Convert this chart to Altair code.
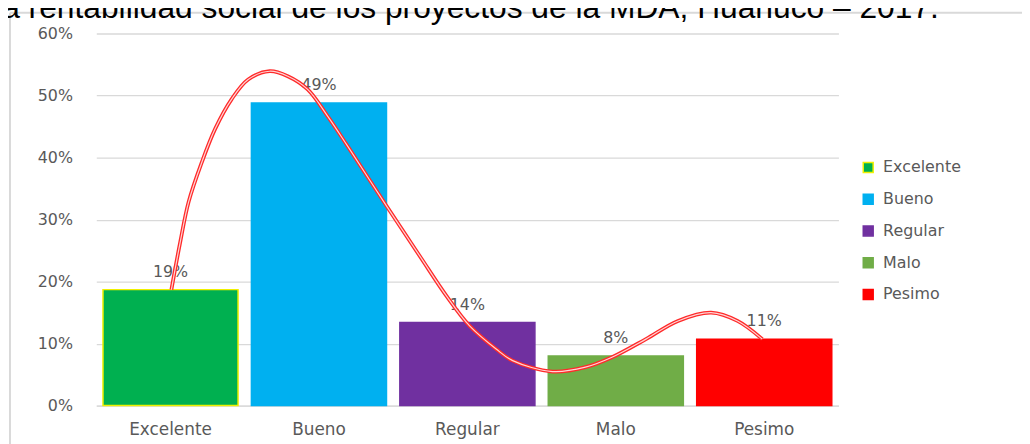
import altair as alt
import pandas as pd

# ---- data ----
categories = ["Excelente", "Bueno", "Regular", "Malo", "Pesimo"]
values = [0.187, 0.488, 0.134, 0.080, 0.107]
value_labels = ["19%", "49%", "14%", "8%", "11%"]
fill_colors = ["#00b050", "#00b0f0", "#7030a0", "#70ad47", "#ff0000"]
stroke_colors = ["#f0f000", "#00b0f0", "#7030a0", "#70ad47", "#ff0000"]

# hand-drawn red curve (x in category units, 0..5; y as fraction)
curve_x = [0.506, 0.566, 0.622, 0.711, 0.800, 0.911, 1.023, 1.168, 1.290, 1.424,
           1.557, 1.691, 1.959, 2.181, 2.360, 2.515, 2.694, 2.805, 3.073, 3.295,
           3.474, 3.703, 3.919, 4.142, 4.320, 4.487]
curve_y = [0.187, 0.2645, 0.3285, 0.3925, 0.4459, 0.4939, 0.5259, 0.5392, 0.5312, 0.5099,
           0.4672, 0.4192, 0.3205, 0.2405, 0.1765, 0.1285, 0.0912, 0.0725, 0.0549, 0.0619,
           0.0779, 0.1072, 0.1365, 0.1499, 0.1365, 0.1072]

title_text = "la rentabilidad social de los proyectos de la MDA, Huánuco – 2017."

bars_df = pd.DataFrame({"cat": categories, "val": values, "lab": value_labels})
curve_df = pd.DataFrame({"cx": curve_x, "cy": curve_y, "order": list(range(len(curve_x)))})
one = pd.DataFrame({"t": [title_text]})

GRAY = "#595959"
FONT = "DejaVu Sans"

x_enc = alt.X("cat:N", sort=categories, title=None,
              scale=alt.Scale(paddingInner=0.09, paddingOuter=0.045),
              axis=alt.Axis(labelAngle=0, labelFont=FONT, labelFontSize=17, labelColor=GRAY,
                            ticks=False, domainColor="#d9d9d9", domainWidth=1.3,
                            labelPadding=16))
y_enc = alt.Y("val:Q", title=None,
              scale=alt.Scale(domain=[0, 0.6], nice=False),
              axis=alt.Axis(values=[0, 0.1, 0.2, 0.3, 0.4, 0.5, 0.6], format=".0%",
                            labelFont=FONT, labelFontSize=16, labelColor=GRAY,
                            ticks=False, domain=False, gridColor="#d9d9d9", gridWidth=1.3,
                            labelPadding=24))

bars = alt.Chart(bars_df).mark_bar(strokeWidth=1.5).encode(
    x=x_enc,
    y=y_enc,
    color=alt.Color("cat:N", sort=categories, title=None,
                    scale=alt.Scale(domain=categories, range=fill_colors),
                    legend=alt.Legend(orient="none", legendX=770, legendY=127,
                                      symbolType="square", symbolSize=100,
                                      symbolStrokeWidth=1.5,
                                      labelFont=FONT, labelFontSize=16, labelColor=GRAY,
                                      labelOffset=7, rowPadding=16, padding=0)),
    stroke=alt.Stroke("cat:N", sort=categories, title=None,
                      scale=alt.Scale(domain=categories, range=stroke_colors)),
)

labels = alt.Chart(bars_df).mark_text(font=FONT, fontSize=16, color=GRAY, dy=-18).encode(
    x=alt.X("cat:N", sort=categories),
    y=alt.Y("val:Q"),
    text="lab:N",
)

main = alt.layer(bars, labels)

curve_outer = alt.Chart(curve_df).mark_line(interpolate="catmull-rom", color="#ff2a2a",
                                            strokeWidth=3.8).encode(
    x=alt.X("cx:Q", scale=alt.Scale(domain=[0, 5], nice=False), axis=None),
    y=alt.Y("cy:Q", scale=alt.Scale(domain=[0, 0.6], nice=False)),
    order="order:Q",
)
curve_inner = curve_outer.mark_line(interpolate="catmull-rom", color="#ffd6d6", strokeWidth=1.2)

frame_v = alt.Chart(one).mark_rule(color="#d9d9d9", strokeWidth=2).encode(
    x=alt.value(-87), y=alt.value(-21), y2=alt.value(460))
frame_h = alt.Chart(one).mark_rule(color="#d9d9d9", strokeWidth=2).encode(
    x=alt.value(-87), x2=alt.value(960), y=alt.value(-21))
title = alt.Chart(one).mark_text(font="Liberation Sans", fontSize=32, color="#000000",
                                 align="left", baseline="alphabetic").encode(
    x=alt.value(-102), y=alt.value(-16), text="t:N")

chart = alt.layer(main, curve_outer, curve_inner, frame_v, frame_h, title).resolve_scale(
    x="independent"
).properties(
    width=748, height=375,
    background="white",
    autosize=alt.AutoSizeParams(type="none"),
    padding={"left": 89, "top": 24, "right": 185, "bottom": 37},
).configure_view(stroke=None)

chart.save("out.html", embed_options={"renderer": "svg", "actions": False})
